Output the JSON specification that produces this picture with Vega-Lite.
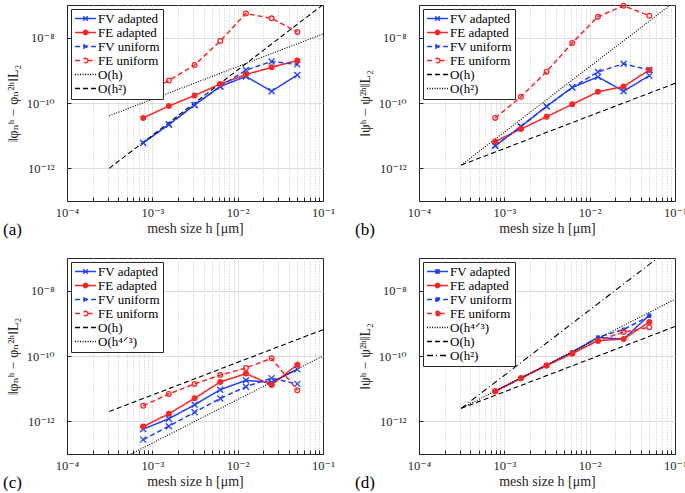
{
  "$schema": "https://vega.github.io/schema/vega-lite/v6.json",
  "background": "white",
  "padding": {"left": 2, "top": 0, "right": 0, "bottom": 0},
  "columns": 2,
  "spacing": {"row": 57, "column": 96},
  "bounds": "flush",
  "datasets": {
    "a": [
      {"s": "FV adapted", "h": 0.00078125, "e": 6.0e-12}, {"s": "FV adapted", "h": 0.0015625, "e": 2.2e-11}, {"s": "FV adapted", "h": 0.003125, "e": 8.7e-11}, {"s": "FV adapted", "h": 0.00625, "e": 3.2e-10}, {"s": "FV adapted", "h": 0.0125, "e": 6.5e-10}, {"s": "FV adapted", "h": 0.025, "e": 2.3e-10}, {"s": "FV adapted", "h": 0.05, "e": 7.2e-10},
      {"s": "FE adapted", "h": 0.00078125, "e": 3.5e-11}, {"s": "FE adapted", "h": 0.0015625, "e": 8.1e-11}, {"s": "FE adapted", "h": 0.003125, "e": 1.7e-10}, {"s": "FE adapted", "h": 0.00625, "e": 3.8e-10}, {"s": "FE adapted", "h": 0.0125, "e": 7.4e-10}, {"s": "FE adapted", "h": 0.025, "e": 1.24e-9}, {"s": "FE adapted", "h": 0.05, "e": 2.0e-9},
      {"s": "FV uniform", "h": 0.00078125, "e": 6.0e-12}, {"s": "FV uniform", "h": 0.0015625, "e": 2.2e-11}, {"s": "FV uniform", "h": 0.003125, "e": 8.7e-11}, {"s": "FV uniform", "h": 0.00625, "e": 3.2e-10}, {"s": "FV uniform", "h": 0.0125, "e": 1.02e-9}, {"s": "FV uniform", "h": 0.025, "e": 1.86e-9}, {"s": "FV uniform", "h": 0.05, "e": 1.52e-9},
      {"s": "FE uniform", "h": 0.00078125, "e": 1.8e-10}, {"s": "FE uniform", "h": 0.0015625, "e": 4.9e-10}, {"s": "FE uniform", "h": 0.003125, "e": 1.45e-9}, {"s": "FE uniform", "h": 0.00625, "e": 7.9e-9}, {"s": "FE uniform", "h": 0.0125, "e": 5.5e-8}, {"s": "FE uniform", "h": 0.025, "e": 3.9e-8}, {"s": "FE uniform", "h": 0.05, "e": 1.5e-8},
      {"s": "O(h)", "h": 0.0003125, "e": 4.07e-11}, {"s": "O(h)", "h": 0.1, "e": 1.3e-8},
      {"s": "O(h²)", "h": 0.0003125, "e": 1.0e-12}, {"s": "O(h²)", "h": 0.1, "e": 1.024e-7}
    ],
    "b": [
      {"s": "FV adapted", "h": 0.00078125, "e": 4.9e-12}, {"s": "FV adapted", "h": 0.0015625, "e": 1.9e-11}, {"s": "FV adapted", "h": 0.003125, "e": 7.9e-11}, {"s": "FV adapted", "h": 0.00625, "e": 3.0e-10}, {"s": "FV adapted", "h": 0.0125, "e": 6.3e-10}, {"s": "FV adapted", "h": 0.025, "e": 2.3e-10}, {"s": "FV adapted", "h": 0.05, "e": 6.9e-10},
      {"s": "FE adapted", "h": 0.00078125, "e": 6.6e-12}, {"s": "FE adapted", "h": 0.0015625, "e": 1.6e-11}, {"s": "FE adapted", "h": 0.003125, "e": 3.8e-11}, {"s": "FE adapted", "h": 0.00625, "e": 9.1e-11}, {"s": "FE adapted", "h": 0.0125, "e": 2.2e-10}, {"s": "FE adapted", "h": 0.025, "e": 3.2e-10}, {"s": "FE adapted", "h": 0.05, "e": 1.02e-9},
      {"s": "FV uniform", "h": 0.00078125, "e": 4.9e-12}, {"s": "FV uniform", "h": 0.0015625, "e": 1.9e-11}, {"s": "FV uniform", "h": 0.003125, "e": 7.9e-11}, {"s": "FV uniform", "h": 0.00625, "e": 3.0e-10}, {"s": "FV uniform", "h": 0.0125, "e": 8.9e-10}, {"s": "FV uniform", "h": 0.025, "e": 1.6e-9}, {"s": "FV uniform", "h": 0.05, "e": 1.02e-9},
      {"s": "FE uniform", "h": 0.00078125, "e": 3.5e-11}, {"s": "FE uniform", "h": 0.0015625, "e": 1.55e-10}, {"s": "FE uniform", "h": 0.003125, "e": 9.1e-10}, {"s": "FE uniform", "h": 0.00625, "e": 6.9e-9}, {"s": "FE uniform", "h": 0.0125, "e": 4.4e-8}, {"s": "FE uniform", "h": 0.025, "e": 9.5e-8}, {"s": "FE uniform", "h": 0.05, "e": 4.7e-8},
      {"s": "O(h)", "h": 0.0003125, "e": 1.26e-12}, {"s": "O(h)", "h": 0.1, "e": 4.0e-10},
      {"s": "O(h²)", "h": 0.0003125, "e": 1.26e-12}, {"s": "O(h²)", "h": 0.1, "e": 1.29e-7}
    ],
    "c": [
      {"s": "FV adapted", "h": 0.00078125, "e": 5.8e-13}, {"s": "FV adapted", "h": 0.0015625, "e": 1.2e-12}, {"s": "FV adapted", "h": 0.003125, "e": 3.2e-12}, {"s": "FV adapted", "h": 0.00625, "e": 9.3e-12}, {"s": "FV adapted", "h": 0.0125, "e": 1.8e-11}, {"s": "FV adapted", "h": 0.025, "e": 1.55e-11}, {"s": "FV adapted", "h": 0.05, "e": 3.9e-11},
      {"s": "FE adapted", "h": 0.00078125, "e": 6.9e-13}, {"s": "FE adapted", "h": 0.0015625, "e": 1.7e-12}, {"s": "FE adapted", "h": 0.003125, "e": 5.1e-12}, {"s": "FE adapted", "h": 0.00625, "e": 1.6e-11}, {"s": "FE adapted", "h": 0.0125, "e": 2.9e-11}, {"s": "FE adapted", "h": 0.025, "e": 1.3e-11}, {"s": "FE adapted", "h": 0.05, "e": 5.4e-11},
      {"s": "FV uniform", "h": 0.00078125, "e": 2.75e-13}, {"s": "FV uniform", "h": 0.0015625, "e": 7.1e-13}, {"s": "FV uniform", "h": 0.003125, "e": 1.9e-12}, {"s": "FV uniform", "h": 0.00625, "e": 5.0e-12}, {"s": "FV uniform", "h": 0.0125, "e": 1.15e-11}, {"s": "FV uniform", "h": 0.025, "e": 2.1e-11}, {"s": "FV uniform", "h": 0.05, "e": 1.4e-11},
      {"s": "FE uniform", "h": 0.00078125, "e": 3.0e-12}, {"s": "FE uniform", "h": 0.0015625, "e": 6.9e-12}, {"s": "FE uniform", "h": 0.003125, "e": 1.4e-11}, {"s": "FE uniform", "h": 0.00625, "e": 2.6e-11}, {"s": "FE uniform", "h": 0.0125, "e": 4.3e-11}, {"s": "FE uniform", "h": 0.025, "e": 8.5e-11}, {"s": "FE uniform", "h": 0.05, "e": 8.9e-12},
      {"s": "O(h)", "h": 0.0003125, "e": 2.0e-12}, {"s": "O(h)", "h": 0.1, "e": 6.4e-10},
      {"s": "O(h⁴ᐟ³)", "h": 0.0003125, "e": 4.57e-14}, {"s": "O(h⁴ᐟ³)", "h": 0.1, "e": 1.0e-10}
    ],
    "d": [
      {"s": "FV adapted", "h": 0.00078125, "e": 8.3e-12}, {"s": "FV adapted", "h": 0.0015625, "e": 2.1e-11}, {"s": "FV adapted", "h": 0.003125, "e": 5.2e-11}, {"s": "FV adapted", "h": 0.00625, "e": 1.3e-10}, {"s": "FV adapted", "h": 0.0125, "e": 3.7e-10}, {"s": "FV adapted", "h": 0.025, "e": 3.3e-10}, {"s": "FV adapted", "h": 0.05, "e": 1.78e-9},
      {"s": "FE adapted", "h": 0.00078125, "e": 8.3e-12}, {"s": "FE adapted", "h": 0.0015625, "e": 2.1e-11}, {"s": "FE adapted", "h": 0.003125, "e": 5.1e-11}, {"s": "FE adapted", "h": 0.00625, "e": 1.2e-10}, {"s": "FE adapted", "h": 0.0125, "e": 2.95e-10}, {"s": "FE adapted", "h": 0.025, "e": 3.3e-10}, {"s": "FE adapted", "h": 0.05, "e": 1.1e-9},
      {"s": "FV uniform", "h": 0.00078125, "e": 8.3e-12}, {"s": "FV uniform", "h": 0.0015625, "e": 2.1e-11}, {"s": "FV uniform", "h": 0.003125, "e": 5.2e-11}, {"s": "FV uniform", "h": 0.00625, "e": 1.3e-10}, {"s": "FV uniform", "h": 0.0125, "e": 3.7e-10}, {"s": "FV uniform", "h": 0.025, "e": 6.5e-10}, {"s": "FV uniform", "h": 0.05, "e": 1.66e-9},
      {"s": "FE uniform", "h": 0.00078125, "e": 8.3e-12}, {"s": "FE uniform", "h": 0.0015625, "e": 2.1e-11}, {"s": "FE uniform", "h": 0.003125, "e": 5.1e-11}, {"s": "FE uniform", "h": 0.00625, "e": 1.2e-10}, {"s": "FE uniform", "h": 0.0125, "e": 2.95e-10}, {"s": "FE uniform", "h": 0.025, "e": 5.4e-10}, {"s": "FE uniform", "h": 0.05, "e": 7.6e-10},
      {"s": "O(h⁴ᐟ³)", "h": 0.0003125, "e": 2.5e-12}, {"s": "O(h⁴ᐟ³)", "h": 0.1, "e": 5.47e-9},
      {"s": "O(h)", "h": 0.0003125, "e": 2.5e-12}, {"s": "O(h)", "h": 0.1, "e": 8.0e-10},
      {"s": "O(h²)", "h": 0.0003125, "e": 2.5e-12}, {"s": "O(h²)", "h": 0.1, "e": 2.56e-7}
    ]
  },
  "concat": [
    {
      "width": 256, "height": 196,
      "data": {"name": "a"},
      "title": {"text": "(a)"},
      "encoding": {
        "x": {"field": "h", "type": "quantitative", "scale": {"type": "log", "domain": [0.0001, 0.1], "nice": false},
          "axis": {"title": "mesh size h [μm]", "values": [0.0001,0.0002,0.0003,0.0004,0.0005,0.0006,0.0007,0.0008,0.0009,0.001,0.002,0.003,0.004,0.005,0.006,0.007,0.008,0.009,0.01,0.02,0.03,0.04,0.05,0.06,0.07,0.08,0.09,0.1],
            "labelExpr": "datum.value == 0.0001 ? '10⁻⁴' : datum.value == 0.001 ? '10⁻³' : datum.value == 0.01 ? '10⁻²' : datum.value == 0.1 ? '10⁻¹' : ''",
            "gridDash": {"condition": {"test": "datum.value == 0.001 || datum.value == 0.01", "value": [1, 0]}, "value": [1, 2]},
            "gridColor": {"condition": {"test": "datum.value == 0.001 || datum.value == 0.01", "value": "#dcdcdc"}, "value": "#c4c4c4"},
            "gridOpacity": {"condition": {"test": "datum.value == 0.0001 || datum.value == 0.1", "value": 0}, "value": 1}}},
        "y": {"field": "e", "type": "quantitative", "scale": {"type": "log", "domain": [1e-13, 1e-7], "nice": false},
          "axis": {"title": "‖φₙʰ − φₙ²ʰ‖L₂", "values": [1e-12, 1e-10, 1e-8],
            "labelExpr": "datum.value < 5e-12 ? '10⁻¹²' : datum.value < 5e-10 ? '10⁻¹⁰' : '10⁻⁸'"}}
      },
      "layer": [
        {"transform": [{"filter": "false"}],
         "mark": {"type": "point", "filled": false, "opacity": 1, "strokeWidth": 1.4},
         "encoding": {
           "color": {"field": "s", "type": "nominal", "legend": {"title": null},
             "scale": {"domain": ["FV adapted", "FE adapted", "FV uniform", "FE uniform", "O(h)", "O(h²)"], "range": ["#2040ff", "#ff2424", "#2040ff", "#ff2424", "black", "black"]}},
           "strokeDash": {"field": "s", "type": "nominal", "legend": {"title": null},
             "scale": {"domain": ["FV adapted", "FE adapted", "FV uniform", "FE uniform", "O(h)", "O(h²)"], "range": [[1, 0], [1, 0], [5, 3], [5, 3], [1, 1.5], [5, 3]]}},
           "shape": {"field": "s", "type": "nominal", "legend": {"title": null},
             "scale": {"domain": ["FV adapted", "FE adapted", "FV uniform", "FE uniform", "O(h)", "O(h²)"], "range": ["M-1.9,0H1.9M-0.4,-0.4L0.4,0.4M-0.4,0.4L0.4,-0.4", "M-1.9,0H-0.4M0.4,0H1.9M0.4,0A0.4,0.4,0,1,1,-0.4,0A0.4,0.4,0,1,1,0.4,0", "M-1.9,0H1.9M-0.4,-0.4L0.4,0.4M-0.4,0.4L0.4,-0.4", "M-1.9,0H-0.4M0.4,0H1.9M0.4,0A0.4,0.4,0,1,1,-0.4,0A0.4,0.4,0,1,1,0.4,0", "M-1.9,0H1.9", "M-1.9,0H1.9"]}},
           "fill": {"field": "s", "type": "nominal", "legend": {"title": null},
             "scale": {"domain": ["FV adapted", "FE adapted", "FV uniform", "FE uniform", "O(h)", "O(h²)"], "range": ["transparent", "#ff2424", "transparent", "transparent", "transparent", "transparent"]}}
         }},
        {"mark": {"type": "line", "clip": true},
         "encoding": {
           "color": {"field": "s", "type": "nominal", "legend": null},
           "strokeDash": {"field": "s", "type": "nominal", "legend": null},
           "strokeWidth": {"condition": {"test": "indexof(datum.s, 'F') == 0", "value": 1.5}, "value": 1.1}
         }},
        {"transform": [{"filter": {"field": "s", "oneOf": ["FV adapted", "FV uniform"]}}],
         "mark": {"type": "point", "shape": "M-1,-1L1,1M-1,1L1,-1", "size": 36, "filled": false, "strokeWidth": 1.3, "opacity": 1},
         "encoding": {"color": {"field": "s", "type": "nominal", "legend": null}}},
        {"transform": [{"filter": {"field": "s", "oneOf": ["FE adapted", "FE uniform"]}}],
         "mark": {"type": "point", "shape": "circle", "size": 22, "filled": false, "strokeWidth": 1.3, "opacity": 1},
         "encoding": {"color": {"field": "s", "type": "nominal", "legend": null}, "fill": {"field": "s", "type": "nominal", "legend": null}}}
      ]
    },
    {
      "width": 256, "height": 196,
      "data": {"name": "b"},
      "title": {"text": "(b)"},
      "encoding": {
        "x": {"field": "h", "type": "quantitative", "scale": {"type": "log", "domain": [0.0001, 0.1], "nice": false},
          "axis": {"title": "mesh size h [μm]", "values": [0.0001,0.0002,0.0003,0.0004,0.0005,0.0006,0.0007,0.0008,0.0009,0.001,0.002,0.003,0.004,0.005,0.006,0.007,0.008,0.009,0.01,0.02,0.03,0.04,0.05,0.06,0.07,0.08,0.09,0.1],
            "labelExpr": "datum.value == 0.0001 ? '10⁻⁴' : datum.value == 0.001 ? '10⁻³' : datum.value == 0.01 ? '10⁻²' : datum.value == 0.1 ? '10⁻¹' : ''",
            "gridDash": {"condition": {"test": "datum.value == 0.001 || datum.value == 0.01", "value": [1, 0]}, "value": [1, 2]},
            "gridColor": {"condition": {"test": "datum.value == 0.001 || datum.value == 0.01", "value": "#dcdcdc"}, "value": "#c4c4c4"},
            "gridOpacity": {"condition": {"test": "datum.value == 0.0001 || datum.value == 0.1", "value": 0}, "value": 1}}},
        "y": {"field": "e", "type": "quantitative", "scale": {"type": "log", "domain": [1e-13, 1e-7], "nice": false},
          "axis": {"title": "‖ψʰ − ψ²ʰ‖L₂", "values": [1e-12, 1e-10, 1e-8],
            "labelExpr": "datum.value < 5e-12 ? '10⁻¹²' : datum.value < 5e-10 ? '10⁻¹⁰' : '10⁻⁸'"}}
      },
      "layer": [
        {"transform": [{"filter": "false"}],
         "mark": {"type": "point", "filled": false, "opacity": 1, "strokeWidth": 1.4},
         "encoding": {
           "color": {"field": "s", "type": "nominal", "legend": {"title": null},
             "scale": {"domain": ["FV adapted", "FE adapted", "FV uniform", "FE uniform", "O(h)", "O(h²)"], "range": ["#2040ff", "#ff2424", "#2040ff", "#ff2424", "black", "black"]}},
           "strokeDash": {"field": "s", "type": "nominal", "legend": {"title": null},
             "scale": {"domain": ["FV adapted", "FE adapted", "FV uniform", "FE uniform", "O(h)", "O(h²)"], "range": [[1, 0], [1, 0], [5, 3], [5, 3], [5, 3], [1, 1.5]]}},
           "shape": {"field": "s", "type": "nominal", "legend": {"title": null},
             "scale": {"domain": ["FV adapted", "FE adapted", "FV uniform", "FE uniform", "O(h)", "O(h²)"], "range": ["M-1.9,0H1.9M-0.4,-0.4L0.4,0.4M-0.4,0.4L0.4,-0.4", "M-1.9,0H-0.4M0.4,0H1.9M0.4,0A0.4,0.4,0,1,1,-0.4,0A0.4,0.4,0,1,1,0.4,0", "M-1.9,0H1.9M-0.4,-0.4L0.4,0.4M-0.4,0.4L0.4,-0.4", "M-1.9,0H-0.4M0.4,0H1.9M0.4,0A0.4,0.4,0,1,1,-0.4,0A0.4,0.4,0,1,1,0.4,0", "M-1.9,0H1.9", "M-1.9,0H1.9"]}},
           "fill": {"field": "s", "type": "nominal", "legend": {"title": null},
             "scale": {"domain": ["FV adapted", "FE adapted", "FV uniform", "FE uniform", "O(h)", "O(h²)"], "range": ["transparent", "#ff2424", "transparent", "transparent", "transparent", "transparent"]}}
         }},
        {"mark": {"type": "line", "clip": true},
         "encoding": {
           "color": {"field": "s", "type": "nominal", "legend": null},
           "strokeDash": {"field": "s", "type": "nominal", "legend": null},
           "strokeWidth": {"condition": {"test": "indexof(datum.s, 'F') == 0", "value": 1.5}, "value": 1.1}
         }},
        {"transform": [{"filter": {"field": "s", "oneOf": ["FV adapted", "FV uniform"]}}],
         "mark": {"type": "point", "shape": "M-1,-1L1,1M-1,1L1,-1", "size": 36, "filled": false, "strokeWidth": 1.3, "opacity": 1},
         "encoding": {"color": {"field": "s", "type": "nominal", "legend": null}}},
        {"transform": [{"filter": {"field": "s", "oneOf": ["FE adapted", "FE uniform"]}}],
         "mark": {"type": "point", "shape": "circle", "size": 22, "filled": false, "strokeWidth": 1.3, "opacity": 1},
         "encoding": {"color": {"field": "s", "type": "nominal", "legend": null}, "fill": {"field": "s", "type": "nominal", "legend": null}}}
      ]
    },
    {
      "width": 256, "height": 196,
      "data": {"name": "c"},
      "title": {"text": "(c)"},
      "encoding": {
        "x": {"field": "h", "type": "quantitative", "scale": {"type": "log", "domain": [0.0001, 0.1], "nice": false},
          "axis": {"title": "mesh size h [μm]", "values": [0.0001,0.0002,0.0003,0.0004,0.0005,0.0006,0.0007,0.0008,0.0009,0.001,0.002,0.003,0.004,0.005,0.006,0.007,0.008,0.009,0.01,0.02,0.03,0.04,0.05,0.06,0.07,0.08,0.09,0.1],
            "labelExpr": "datum.value == 0.0001 ? '10⁻⁴' : datum.value == 0.001 ? '10⁻³' : datum.value == 0.01 ? '10⁻²' : datum.value == 0.1 ? '10⁻¹' : ''",
            "gridDash": {"condition": {"test": "datum.value == 0.001 || datum.value == 0.01", "value": [1, 0]}, "value": [1, 2]},
            "gridColor": {"condition": {"test": "datum.value == 0.001 || datum.value == 0.01", "value": "#dcdcdc"}, "value": "#c4c4c4"},
            "gridOpacity": {"condition": {"test": "datum.value == 0.0001 || datum.value == 0.1", "value": 0}, "value": 1}}},
        "y": {"field": "e", "type": "quantitative", "scale": {"type": "log", "domain": [1e-13, 1e-7], "nice": false},
          "axis": {"title": "‖φₙʰ − φₙ²ʰ‖L₂", "values": [1e-12, 1e-10, 1e-8],
            "labelExpr": "datum.value < 5e-12 ? '10⁻¹²' : datum.value < 5e-10 ? '10⁻¹⁰' : '10⁻⁸'"}}
      },
      "layer": [
        {"transform": [{"filter": "false"}],
         "mark": {"type": "point", "filled": false, "opacity": 1, "strokeWidth": 1.4},
         "encoding": {
           "color": {"field": "s", "type": "nominal", "legend": {"title": null},
             "scale": {"domain": ["FV adapted", "FE adapted", "FV uniform", "FE uniform", "O(h)", "O(h⁴ᐟ³)"], "range": ["#2040ff", "#ff2424", "#2040ff", "#ff2424", "black", "black"]}},
           "strokeDash": {"field": "s", "type": "nominal", "legend": {"title": null},
             "scale": {"domain": ["FV adapted", "FE adapted", "FV uniform", "FE uniform", "O(h)", "O(h⁴ᐟ³)"], "range": [[1, 0], [1, 0], [5, 3], [5, 3], [5, 3], [1, 1.5]]}},
           "shape": {"field": "s", "type": "nominal", "legend": {"title": null},
             "scale": {"domain": ["FV adapted", "FE adapted", "FV uniform", "FE uniform", "O(h)", "O(h⁴ᐟ³)"], "range": ["M-1.9,0H1.9M-0.4,-0.4L0.4,0.4M-0.4,0.4L0.4,-0.4", "M-1.9,0H-0.4M0.4,0H1.9M0.4,0A0.4,0.4,0,1,1,-0.4,0A0.4,0.4,0,1,1,0.4,0", "M-1.9,0H1.9M-0.4,-0.4L0.4,0.4M-0.4,0.4L0.4,-0.4", "M-1.9,0H-0.4M0.4,0H1.9M0.4,0A0.4,0.4,0,1,1,-0.4,0A0.4,0.4,0,1,1,0.4,0", "M-1.9,0H1.9", "M-1.9,0H1.9"]}},
           "fill": {"field": "s", "type": "nominal", "legend": {"title": null},
             "scale": {"domain": ["FV adapted", "FE adapted", "FV uniform", "FE uniform", "O(h)", "O(h⁴ᐟ³)"], "range": ["transparent", "#ff2424", "transparent", "transparent", "transparent", "transparent"]}}
         }},
        {"mark": {"type": "line", "clip": true},
         "encoding": {
           "color": {"field": "s", "type": "nominal", "legend": null},
           "strokeDash": {"field": "s", "type": "nominal", "legend": null},
           "strokeWidth": {"condition": {"test": "indexof(datum.s, 'F') == 0", "value": 1.5}, "value": 1.1}
         }},
        {"transform": [{"filter": {"field": "s", "oneOf": ["FV adapted", "FV uniform"]}}],
         "mark": {"type": "point", "shape": "M-1,-1L1,1M-1,1L1,-1", "size": 36, "filled": false, "strokeWidth": 1.3, "opacity": 1},
         "encoding": {"color": {"field": "s", "type": "nominal", "legend": null}}},
        {"transform": [{"filter": {"field": "s", "oneOf": ["FE adapted", "FE uniform"]}}],
         "mark": {"type": "point", "shape": "circle", "size": 22, "filled": false, "strokeWidth": 1.3, "opacity": 1},
         "encoding": {"color": {"field": "s", "type": "nominal", "legend": null}, "fill": {"field": "s", "type": "nominal", "legend": null}}}
      ]
    },
    {
      "width": 256, "height": 196,
      "data": {"name": "d"},
      "title": {"text": "(d)"},
      "encoding": {
        "x": {"field": "h", "type": "quantitative", "scale": {"type": "log", "domain": [0.0001, 0.1], "nice": false},
          "axis": {"title": "mesh size h [μm]", "values": [0.0001,0.0002,0.0003,0.0004,0.0005,0.0006,0.0007,0.0008,0.0009,0.001,0.002,0.003,0.004,0.005,0.006,0.007,0.008,0.009,0.01,0.02,0.03,0.04,0.05,0.06,0.07,0.08,0.09,0.1],
            "labelExpr": "datum.value == 0.0001 ? '10⁻⁴' : datum.value == 0.001 ? '10⁻³' : datum.value == 0.01 ? '10⁻²' : datum.value == 0.1 ? '10⁻¹' : ''",
            "gridDash": {"condition": {"test": "datum.value == 0.001 || datum.value == 0.01", "value": [1, 0]}, "value": [1, 2]},
            "gridColor": {"condition": {"test": "datum.value == 0.001 || datum.value == 0.01", "value": "#dcdcdc"}, "value": "#c4c4c4"},
            "gridOpacity": {"condition": {"test": "datum.value == 0.0001 || datum.value == 0.1", "value": 0}, "value": 1}}},
        "y": {"field": "e", "type": "quantitative", "scale": {"type": "log", "domain": [1e-13, 1e-7], "nice": false},
          "axis": {"title": "‖ψʰ − ψ²ʰ‖L₂", "values": [1e-12, 1e-10, 1e-8],
            "labelExpr": "datum.value < 5e-12 ? '10⁻¹²' : datum.value < 5e-10 ? '10⁻¹⁰' : '10⁻⁸'"}}
      },
      "layer": [
        {"transform": [{"filter": "false"}],
         "mark": {"type": "point", "filled": false, "opacity": 1, "strokeWidth": 1.4},
         "encoding": {
           "color": {"field": "s", "type": "nominal", "legend": {"title": null},
             "scale": {"domain": ["FV adapted", "FE adapted", "FV uniform", "FE uniform", "O(h⁴ᐟ³)", "O(h)", "O(h²)"], "range": ["#2040ff", "#ff2424", "#2040ff", "#ff2424", "black", "black", "black"]}},
           "strokeDash": {"field": "s", "type": "nominal", "legend": {"title": null},
             "scale": {"domain": ["FV adapted", "FE adapted", "FV uniform", "FE uniform", "O(h⁴ᐟ³)", "O(h)", "O(h²)"], "range": [[1, 0], [1, 0], [5, 3], [5, 3], [1, 1.5], [5, 3], [6, 3, 1, 3]]}},
           "shape": {"field": "s", "type": "nominal", "legend": {"title": null},
             "scale": {"domain": ["FV adapted", "FE adapted", "FV uniform", "FE uniform", "O(h⁴ᐟ³)", "O(h)", "O(h²)"], "range": ["M-1.9,0H1.9M-0.3,-0.3H0.3V0.3H-0.3Z", "M-1.9,0H-0.4M0.4,0H1.9M0.4,0A0.4,0.4,0,1,1,-0.4,0A0.4,0.4,0,1,1,0.4,0", "M-1.9,0H1.9M-0.3,-0.3H0.3V0.3H-0.3Z", "M-1.9,0H-0.4M0.4,0H1.9M0.4,0A0.4,0.4,0,1,1,-0.4,0A0.4,0.4,0,1,1,0.4,0", "M-1.9,0H1.9", "M-1.9,0H1.9", "M-1.9,0H1.9"]}},
           "fill": {"field": "s", "type": "nominal", "legend": {"title": null},
             "scale": {"domain": ["FV adapted", "FE adapted", "FV uniform", "FE uniform", "O(h⁴ᐟ³)", "O(h)", "O(h²)"], "range": ["#2040ff", "#ff2424", "#2040ff", "transparent", "transparent", "transparent", "transparent"]}}
         }},
        {"mark": {"type": "line", "clip": true},
         "encoding": {
           "color": {"field": "s", "type": "nominal", "legend": null},
           "strokeDash": {"field": "s", "type": "nominal", "legend": null},
           "strokeWidth": {"condition": {"test": "indexof(datum.s, 'F') == 0", "value": 1.5}, "value": 1.1}
         }},
        {"transform": [{"filter": {"field": "s", "oneOf": ["FV adapted", "FV uniform"]}}],
         "mark": {"type": "point", "shape": "square", "size": 14, "filled": true, "opacity": 1},
         "encoding": {"color": {"field": "s", "type": "nominal", "legend": null}}},
        {"transform": [{"filter": {"field": "s", "oneOf": ["FE adapted", "FE uniform"]}}],
         "mark": {"type": "point", "shape": "circle", "size": 22, "filled": false, "strokeWidth": 1.3, "opacity": 1},
         "encoding": {"color": {"field": "s", "type": "nominal", "legend": null}, "fill": {"field": "s", "type": "nominal", "legend": null}}}
      ]
    }
  ],
  "resolve": {
    "scale": {"color": "independent", "strokeDash": "independent", "shape": "independent", "fill": "independent"},
    "legend": {"color": "independent", "strokeDash": "independent", "shape": "independent", "fill": "independent"}
  },
  "config": {
    "font": "Liberation Serif, Times New Roman, DejaVu Serif, serif",
    "view": {"stroke": "#262626", "strokeWidth": 1},
    "axis": {"labelFont": "Liberation Serif, Times New Roman, DejaVu Serif, serif", "titleFont": "Liberation Serif, Times New Roman, DejaVu Serif, serif", "labelFontSize": 12.5, "titleFontSize": 14, "titleFontWeight": "normal", "labelColor": "#262626", "titleColor": "#262626", "domainColor": "#262626", "tickColor": "#262626", "labelOverlap": false, "labelFlush": false, "grid": true, "gridColor": "#dcdcdc", "tickSize": -4},
    "axisX": {"labelPadding": 9, "titlePadding": 3},
    "axisY": {"labelPadding": 17, "titlePadding": 6},
    "legend": {"orient": "top-left", "offset": 4, "fillColor": "white", "strokeColor": "#262626", "padding": 3, "symbolSize": 121, "symbolOffset": 5, "labelOffset": 6, "rowPadding": -2, "labelFont": "Liberation Serif, Times New Roman, DejaVu Serif, serif", "labelFontSize": 13, "labelColor": "black", "symbolStrokeWidth": 1.4, "labelLimit": 200},
    "title": {"orient": "bottom", "anchor": "start", "frame": "group", "dx": -64, "dy": -18, "offset": 0, "fontSize": 17, "fontWeight": "normal", "font": "Liberation Serif, Times New Roman, DejaVu Serif, serif", "color": "black"}
  }
}
